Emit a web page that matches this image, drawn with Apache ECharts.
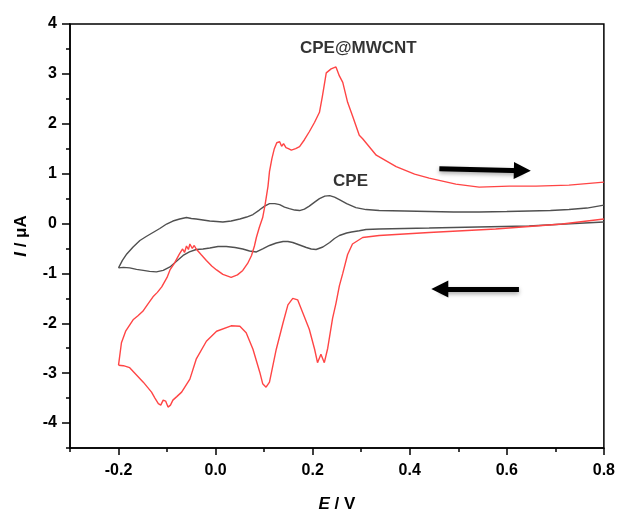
<!DOCTYPE html>
<html><head><meta charset="utf-8">
<script src="https://cdn.jsdelivr.net/npm/echarts@6/dist/echarts.min.js"></script>
<style>html,body{margin:0;padding:0;background:#fff;overflow:hidden;width:618px;height:518px}#c{width:618px;height:518px}</style>
</head><body><div id="c"></div>
<script>
// Tick labels / tick positions
const xTickLabels = [-0.2, 0.0, 0.2, 0.4, 0.6, 0.8];
const xMinorTicks = [-0.3, -0.1, 0.1, 0.3, 0.5, 0.7];
const yTickLabels = [-4, -3, -2, -1, 0, 1, 2, 3, 4];
const yMinorTicks = [-4.5, -3.5, -2.5, -1.5, -0.5, 0.5, 1.5, 2.5, 3.5];

// CPE@MWCNT, forward (anodic) scan
const mwcntFwdE = [-0.200,-0.194,-0.185,-0.170,-0.160,-0.150,-0.140,-0.129,-0.120,-0.111,-0.100,-0.094,-0.085,-0.075,-0.068,-0.064,-0.060,-0.056,-0.053,-0.048,-0.044,-0.040,-0.030,-0.019,-0.008,0.002,0.015,0.032,0.045,0.056,0.066,0.074,0.080,0.084,0.090,0.097,0.102,0.108,0.111,0.116,0.121,0.126,0.132,0.136,0.140,0.145,0.150,0.156,0.165,0.173,0.183,0.193,0.204,0.214,0.220,0.228,0.238,0.248,0.255,0.262,0.272,0.282,0.296,0.303,0.331,0.372,0.410,0.440,0.495,0.543,0.605,0.660,0.728,0.800];
const mwcntFwdI = [-2.84,-2.39,-2.15,-1.93,-1.85,-1.76,-1.62,-1.47,-1.38,-1.27,-1.08,-0.93,-0.80,-0.62,-0.51,-0.58,-0.45,-0.52,-0.41,-0.50,-0.44,-0.51,-0.62,-0.74,-0.85,-0.93,-1.02,-1.08,-1.03,-0.94,-0.80,-0.64,-0.45,-0.28,-0.08,0.12,0.38,0.75,1.04,1.30,1.50,1.62,1.64,1.55,1.60,1.52,1.50,1.47,1.50,1.54,1.68,1.84,2.03,2.23,2.55,3.02,3.10,3.14,2.96,2.83,2.43,2.16,1.77,1.70,1.37,1.14,0.99,0.91,0.79,0.73,0.75,0.75,0.77,0.83];
// CPE@MWCNT, reverse (cathodic) scan
const mwcntRevE = [0.800,0.714,0.577,0.440,0.337,0.303,0.282,0.272,0.262,0.255,0.248,0.241,0.231,0.224,0.217,0.210,0.204,0.193,0.180,0.169,0.159,0.149,0.139,0.125,0.111,0.104,0.097,0.091,0.077,0.063,0.050,0.032,0.002,-0.019,-0.040,-0.053,-0.070,-0.080,-0.088,-0.093,-0.098,-0.103,-0.108,-0.113,-0.118,-0.125,-0.132,-0.149,-0.177,-0.190,-0.200];
const mwcntRevI = [0.09,-0.01,-0.11,-0.18,-0.24,-0.28,-0.41,-0.62,-1.00,-1.25,-1.60,-1.90,-2.50,-2.79,-2.62,-2.79,-2.52,-2.12,-1.80,-1.53,-1.50,-1.63,-1.99,-2.52,-3.18,-3.28,-3.21,-2.98,-2.52,-2.19,-2.06,-2.05,-2.16,-2.36,-2.72,-3.12,-3.38,-3.47,-3.54,-3.64,-3.68,-3.56,-3.54,-3.64,-3.61,-3.50,-3.38,-3.18,-2.89,-2.85,-2.84];

// CPE, forward scan
const cpeFwdE = [-0.200,-0.192,-0.183,-0.170,-0.156,-0.143,-0.129,-0.115,-0.101,-0.088,-0.074,-0.060,-0.050,-0.040,-0.026,-0.012,0.002,0.015,0.032,0.050,0.064,0.077,0.090,0.101,0.111,0.122,0.132,0.142,0.152,0.163,0.173,0.183,0.193,0.204,0.214,0.225,0.235,0.245,0.255,0.270,0.289,0.310,0.337,0.390,0.440,0.490,0.543,0.600,0.646,0.690,0.728,0.765,0.800];
const cpeFwdI = [-0.89,-0.74,-0.61,-0.47,-0.34,-0.26,-0.18,-0.10,-0.01,0.05,0.09,0.12,0.10,0.09,0.07,0.05,0.04,0.03,0.05,0.09,0.13,0.18,0.27,0.35,0.40,0.40,0.38,0.33,0.30,0.27,0.26,0.29,0.35,0.43,0.50,0.55,0.56,0.53,0.48,0.40,0.32,0.28,0.26,0.25,0.24,0.23,0.23,0.24,0.25,0.26,0.28,0.31,0.37];
// CPE, reverse scan
const cpeRevE = [0.800,0.720,0.646,0.540,0.440,0.337,0.310,0.296,0.280,0.270,0.255,0.245,0.235,0.221,0.207,0.197,0.187,0.173,0.159,0.149,0.139,0.125,0.111,0.097,0.084,0.070,0.056,0.040,0.022,0.005,-0.012,-0.026,-0.040,-0.054,-0.067,-0.080,-0.094,-0.108,-0.122,-0.136,-0.149,-0.163,-0.177,-0.190,-0.200];
const cpeRevI = [0.03,-0.01,-0.05,-0.07,-0.09,-0.11,-0.12,-0.145,-0.17,-0.19,-0.24,-0.30,-0.38,-0.47,-0.52,-0.51,-0.48,-0.43,-0.38,-0.36,-0.36,-0.39,-0.44,-0.51,-0.57,-0.55,-0.51,-0.48,-0.46,-0.46,-0.49,-0.51,-0.52,-0.57,-0.64,-0.75,-0.87,-0.94,-0.97,-0.96,-0.94,-0.92,-0.89,-0.88,-0.89];

function zip(e, i) { return e.map((v, k) => [v, i[k]]); }

const FONT = 'Liberation Sans';
const RED = '#ff4545', GRAY = '#505050';
const chart = echarts.init(document.getElementById('c'), null, {renderer: 'canvas', width: 618, height: 518});
const axisLineStyle = {color: '#000', width: 1.5};
function curve(name, data, color, z) {
  return {name, type: 'line', data, showSymbol: false, smooth: false,
    lineStyle: {color, width: 1.4}, itemStyle: {color}, z, silent: true};
}
const cpeFwd = curve('CPE', zip(cpeFwdE, cpeFwdI), GRAY, 3);
cpeFwd.markLine = {
  silent: true, symbol: ['none', 'triangle'], symbolSize: 17,
  label: {show: false}, emphasis: {disabled: true},
  lineStyle: {color: '#000', width: 5, type: 'solid', shadowColor: 'rgba(0,0,0,0.35)', shadowBlur: 4, shadowOffsetY: 2},
  itemStyle: {color: '#000'},
  data: [
    [{coord: [0.461, 1.10]}, {coord: [0.632, 1.06]}],
    [{coord: [0.625, -1.31]}, {coord: [0.462, -1.31]}]
  ]
};
chart.setOption({
  animation: false,
  backgroundColor: '#fff',
  grid: {left: 70, right: 13, top: 24, bottom: 64, show: true, borderColor: '#000', borderWidth: 1.5, backgroundColor: 'transparent'},
  xAxis: [{
    type: 'value', min: -0.3, max: 0.8,
    name: '{i|E} / V', nameLocation: 'middle', nameGap: 48,
    nameTextStyle: {fontFamily: FONT, fontSize: 17, fontWeight: 'bold', color: '#000',
      rich: {i: {fontFamily: FONT, fontSize: 17, fontWeight: 'bold', fontStyle: 'italic', color: '#000'}}},
    axisLine: {show: true, onZero: false, lineStyle: axisLineStyle},
    axisTick: {show: true, inside: false, length: 7, lineStyle: axisLineStyle, customValues: xTickLabels},
    axisLabel: {customValues: xTickLabels, formatter: v => v.toFixed(1), fontFamily: FONT, fontSize: 16, fontWeight: 'bold', color: '#000', margin: 15},
    splitLine: {show: false}
  }, {
    type: 'value', min: -0.3, max: 0.8, position: 'bottom', gridIndex: 0,
    axisLine: {show: false, onZero: false},
    axisTick: {show: true, inside: false, length: 4, lineStyle: axisLineStyle, customValues: xMinorTicks},
    axisLabel: {show: false},
    splitLine: {show: false}
  }],
  yAxis: [{
    type: 'value', min: -4.5, max: 4,
    name: '{i|I} / μA', nameLocation: 'middle', nameGap: 40, nameRotate: 90,
    nameTextStyle: {fontFamily: FONT, fontSize: 17, fontWeight: 'bold', color: '#000',
      rich: {i: {fontFamily: FONT, fontSize: 17, fontWeight: 'bold', fontStyle: 'italic', color: '#000'}}},
    axisLine: {show: true, onZero: false, lineStyle: axisLineStyle},
    axisTick: {show: true, inside: false, length: 8, lineStyle: axisLineStyle, customValues: yTickLabels},
    axisLabel: {customValues: yTickLabels, formatter: v => String(v), fontFamily: FONT, fontSize: 16, fontWeight: 'bold', color: '#000', margin: 13},
    splitLine: {show: false}
  }, {
    type: 'value', min: -4.5, max: 4, position: 'left', gridIndex: 0,
    axisLine: {show: false, onZero: false},
    axisTick: {show: true, inside: false, length: 4, lineStyle: axisLineStyle, customValues: yMinorTicks},
    axisLabel: {show: false},
    splitLine: {show: false}
  }],
  series: [
    cpeFwd,
    curve('CPE', zip(cpeRevE, cpeRevI), GRAY, 3),
    curve('CPE@MWCNT', zip(mwcntFwdE, mwcntFwdI), RED, 4),
    curve('CPE@MWCNT', zip(mwcntRevE, mwcntRevI), RED, 4),
    {
      type: 'scatter', symbolSize: 0, silent: true, z: 6,
      data: [{value: [0.294, 3.52], name: 'CPE@MWCNT'}, {value: [0.278, 0.85], name: 'CPE'}],
      label: {show: true, position: 'inside', formatter: p => p.name, fontFamily: FONT, fontSize: 17, fontWeight: 'bold', color: '#000'}
    }
  ]
});
</script>
</body></html>
